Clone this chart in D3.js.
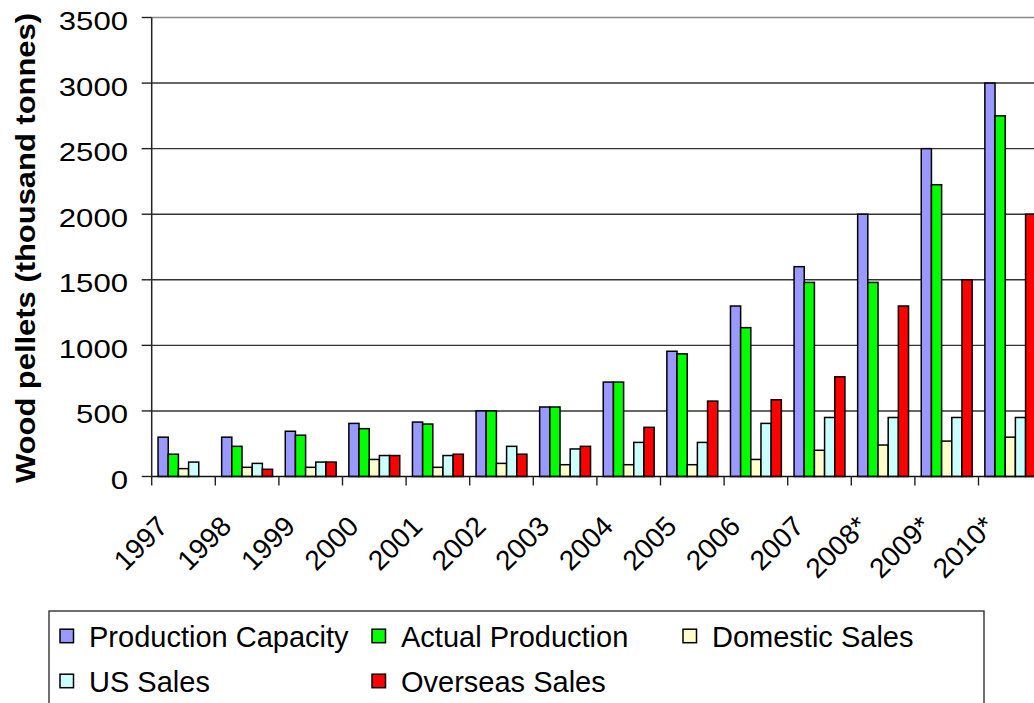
<!DOCTYPE html>
<html>
<head>
<meta charset="utf-8">
<script src="https://cdn.jsdelivr.net/npm/d3@7"></script>
<style>
  html, body { margin: 0; padding: 0; background: #fff; }
  svg { display: block; font-family: "Liberation Sans", Arial, sans-serif; }
</style>
</head>
<body>
<svg id="chart" width="1034" height="703"></svg>
<script>
// Wood pellet production and sales, 1997–2010 (starred years are forecasts)
const years = ["1997","1998","1999","2000","2001","2002","2003","2004","2005","2006","2007","2008*","2009*","2010*"];
const seriesNames = ["Production Capacity","Actual Production","Domestic Sales","US Sales","Overseas Sales"];
const seriesColors = ["#9999FF","#00FF00","#FFFFCC","#CCFFFF","#FF0000"];

const productionCapacity = [300, 300, 345, 405, 415, 500, 530, 720, 955, 1300, 1600, 2000, 2500, 3000];
const actualProduction   = [170, 230, 315, 365, 400, 500, 530, 720, 935, 1135, 1480, 1480, 2225, 2750];
const domesticSales      = [60, 70, 70, 130, 70, 100, 90, 90, 90, 130, 200, 240, 270, 300];
const usSales            = [110, 100, 110, 160, 160, 230, 210, 260, 260, 405, 450, 450, 450, 450];
const overseasSales      = [0, 55, 110, 160, 170, 170, 230, 375, 575, 585, 760, 1300, 1500, 2000];

const yTicks = [0, 500, 1000, 1500, 2000, 2500, 3000, 3500];

const seriesValues = [productionCapacity, actualProduction, domesticSales, usSales, overseasSales];

const svg = d3.select("#chart");

// Plot frame
const plotLeft = 151.7, plotTop = 17.5, plotBottom = 476.5;
const catStep = 63.6;
const plotRight = plotLeft + years.length * catStep;

const x = d3.scaleBand().domain(years).range([plotLeft, plotRight]).padding(0);
const xInner = d3.scaleBand().domain(seriesNames).range([0, x.bandwidth()])
  .paddingInner(0).paddingOuter(0.625);
const y = d3.scaleLinear().domain([0, 3500]).range([plotBottom, plotTop]);

// Horizontal gridlines
svg.append("g").selectAll("line")
  .data(yTicks.filter(d => d > 0))
  .join("line")
  .attr("x1", plotLeft).attr("x2", plotRight)
  .attr("y1", d => y(d)).attr("y2", d => y(d))
  .attr("stroke", d => d === 3500 ? "#8a8a8a" : "#333")
  .attr("stroke-width", 1.4);

// Bars
const groups = svg.append("g").selectAll("g")
  .data(years)
  .join("g")
  .attr("transform", d => `translate(${x(d)},0)`);

groups.selectAll("rect")
  .data((yr, i) => seriesNames.map((s, j) => ({ s, j, v: seriesValues[j][i] })).filter(d => d.v > 0))
  .join("rect")
  .attr("x", d => xInner(d.s))
  .attr("width", xInner.bandwidth())
  .attr("y", d => y(d.v))
  .attr("height", d => y(0) - y(d.v))
  .attr("fill", d => seriesColors[d.j])
  .attr("stroke", "#000")
  .attr("stroke-width", 1.5);

// Y axis
const yAxis = svg.append("g");
yAxis.append("line")
  .attr("x1", plotLeft).attr("x2", plotLeft)
  .attr("y1", plotTop).attr("y2", plotBottom)
  .attr("stroke", "#222").attr("stroke-width", 1.5);
yAxis.selectAll("line.tick")
  .data(yTicks)
  .join("line")
  .attr("class", "tick")
  .attr("x1", plotLeft - 10).attr("x2", plotLeft)
  .attr("y1", d => y(d)).attr("y2", d => y(d))
  .attr("stroke", "#222").attr("stroke-width", 1.4);
yAxis.selectAll("text")
  .data(yTicks)
  .join("text")
  .attr("x", 128)
  .attr("y", d => y(d) + 12.5)
  .attr("text-anchor", "end")
  .attr("font-size", 25.5)
  .attr("fill", "#000")
  .attr("textLength", d => String(d).length * 17.3)
  .attr("lengthAdjust", "spacingAndGlyphs")
  .text(d => d);

// X axis
const xAxis = svg.append("g");
xAxis.append("line")
  .attr("x1", plotLeft).attr("x2", plotRight)
  .attr("y1", plotBottom).attr("y2", plotBottom)
  .attr("stroke", "#111").attr("stroke-width", 1.5);
xAxis.selectAll("line.tick")
  .data(d3.range(years.length + 1))
  .join("line")
  .attr("class", "tick")
  .attr("x1", i => plotLeft + i * x.step()).attr("x2", i => plotLeft + i * x.step())
  .attr("y1", plotBottom).attr("y2", plotBottom + 9)
  .attr("stroke", "#222").attr("stroke-width", 1.4);
xAxis.selectAll("text")
  .data(years)
  .join("text")
  .attr("transform", d => `translate(${x(d) + x.bandwidth() / 2 - 14},528) rotate(-45)`)
  .attr("text-anchor", "end")
  .attr("font-size", 28)
  .attr("fill", "#000")
  .text(d => d);

// Y axis title
svg.append("text")
  .attr("transform", "translate(35,248) rotate(-90)")
  .attr("text-anchor", "middle")
  .attr("font-size", 27)
  .attr("font-weight", "bold")
  .attr("fill", "#000")
  .attr("textLength", 470)
  .attr("lengthAdjust", "spacingAndGlyphs")
  .text("Wood pellets (thousand tonnes)");

// Legend
const legend = svg.append("g");
legend.append("rect")
  .attr("x", 49).attr("y", 611)
  .attr("width", 935).attr("height", 120)
  .attr("fill", "#fff").attr("stroke", "#333").attr("stroke-width", 1.4);

const legendPos = [
  { x: 60, y: 646.7 }, { x: 372, y: 646.7 }, { x: 683, y: 646.7 },
  { x: 60, y: 691.7 }, { x: 372, y: 691.7 }
];
const items = legend.selectAll("g.item")
  .data(seriesNames)
  .join("g")
  .attr("class", "item")
  .attr("transform", (d, i) => `translate(${legendPos[i].x},${legendPos[i].y})`);
items.append("rect")
  .attr("x", 0).attr("y", -17.5)
  .attr("width", 13.5).attr("height", 13.5)
  .attr("fill", (d, i) => seriesColors[i])
  .attr("stroke", "#000").attr("stroke-width", 1.5);
items.append("text")
  .attr("x", 29).attr("y", 0)
  .attr("font-size", 29)
  .attr("fill", "#000")
  .text(d => d);
</script>
</body>
</html>
